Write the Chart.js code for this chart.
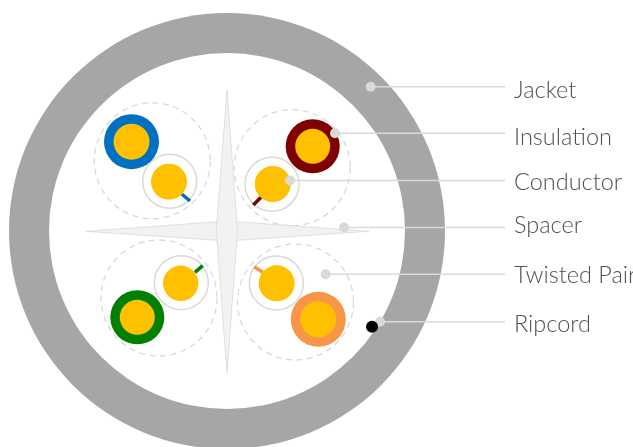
<!DOCTYPE html>
<html>
<head>
<meta charset="utf-8">
<title>Cable cross-section</title>
<script src="https://cdn.jsdelivr.net/npm/chart.js@4"></script>
<style>
html, body { margin: 0; padding: 0; background: #fff; overflow: hidden; }
canvas { display: block; }
</style>
</head>
<body>
<canvas id="chart" width="633" height="447"></canvas>
<script>
const jacket = [{ x: 227, y: 231, r: 218 }];
const jacketInner = [{ x: 227, y: 231, r: 178 }];

const pairOutlines = [
    { x: 152.3, y: 160.8, r: 58 },
    { x: 292.2, y: 167.7, r: 58 },
    { x: 159, y: 298, r: 58 },
    { x: 295.5, y: 302, r: 58 }
];

const spacerHorizontal = [
    { x: 86, y: 231.3 }, { x: 227, y: 221 }, { x: 369, y: 231.3 },
    { x: 227, y: 241 }, { x: 86, y: 231.3 }
];
const spacerVertical = [
    { x: 227, y: 90 }, { x: 236.8, y: 221 }, { x: 237.5, y: 231 }, { x: 236.8, y: 241 },
    { x: 227, y: 373 }, { x: 217, y: 241 }, { x: 216.5, y: 231 }, { x: 217, y: 221 },
    { x: 227, y: 90 }
];

const colouredColours = ['#0070c0', '#7f0000', '#008000', '#f79646'];
const colouredWires = [
    { x: 131.5, y: 141.7, r: 27.5 },
    { x: 312.7, y: 146.3, r: 27 },
    { x: 137.3, y: 317.3, r: 27 },
    { x: 318.3, y: 319.3, r: 27.5 }
];
const colouredCores = [
    { x: 131.5, y: 141.7, r: 18 },
    { x: 312.7, y: 146.3, r: 17.5 },
    { x: 137.3, y: 317.3, r: 17.5 },
    { x: 318.3, y: 319.3, r: 18 }
];

const plainRings = [
    { x: 169.7, y: 181.3, r: 27 },
    { x: 272, y: 184.3, r: 27 },
    { x: 181.3, y: 282.7, r: 27 },
    { x: 276.3, y: 283, r: 27 }
];
const plainCores = [
    { x: 169, y: 181.7, r: 18 },
    { x: 272.7, y: 184, r: 18 },
    { x: 180.7, y: 283.3, r: 17.7 },
    { x: 276.7, y: 283.3, r: 18 }
];
const stubs = [
    [{ x: 181.7, y: 194 }, { x: 190, y: 201 }],
    [{ x: 261, y: 197.3 }, { x: 253.3, y: 205 }],
    [{ x: 195, y: 272.3 }, { x: 202.7, y: 265.7 }],
    [{ x: 262.7, y: 272.3 }, { x: 254.3, y: 266.7 }]
];

const ripcord = [{ x: 372, y: 326.7, r: 6 }];

const labels = ['Jacket', 'Insulation', 'Conductor', 'Spacer', 'Twisted Pair', 'Ripcord'];
const labelBaselines = [98, 145, 190, 233, 283, 332];
const labelX = 514;
const leaderEndX = 505;
const leaderDots = [
    { x: 370.7, y: 86.7 },
    { x: 335, y: 133.3 },
    { x: 290, y: 180.5 },
    { x: 344, y: 227.5 },
    { x: 325.7, y: 274.3 },
    { x: 380, y: 321.7 }
];

const GREY = '#a6a6a6';
const GOLD = '#ffc000';
const LIGHT = '#d9d9d9';

function bubble(data, fill, extra) {
    return Object.assign({ type: 'bubble', data: data, backgroundColor: fill, borderWidth: 0 }, extra);
}
function path(data, colour, width, extra) {
    return Object.assign({
        type: 'scatter', data: data, showLine: true, pointRadius: 0,
        borderColor: colour, borderWidth: width
    }, extra);
}

// listed in paint order, bottom first
const datasets = [
    bubble(jacket, GREY),
    bubble(jacketInner, '#fff'),
    bubble(pairOutlines, 'transparent', { borderColor: LIGHT, borderWidth: 1.3, dash: [6, 4.5] }),
    path(spacerHorizontal, LIGHT, 0.8, { fill: 'shape', backgroundColor: '#f2f2f2' }),
    path(spacerVertical, LIGHT, 0.8, { fill: 'shape', backgroundColor: '#f2f2f2' })
];
datasets.push(bubble(plainRings, '#fff', { borderColor: LIGHT, borderWidth: 1.5 }));
stubs.forEach((s, i) => datasets.push(path(s, colouredColours[i], 3.5)));
datasets.push(bubble(plainCores, GOLD));
datasets.push(bubble(colouredWires, colouredColours));
datasets.push(bubble(colouredCores, GOLD));
leaderDots.forEach(d => {
    datasets.push(path([d, { x: leaderEndX, y: d.y }], LIGHT, 1.6));
});
datasets.push(bubble(leaderDots.map(d => ({ x: d.x, y: d.y, r: 5 })), LIGHT));
datasets.push(bubble(ripcord, '#000'));
datasets.forEach((d, i) => { d.order = datasets.length - i; });

// point elements take the dash from the context
const dashPlugin = {
    id: 'dash',
    beforeDatasetDraw(chart, args) {
        const dash = chart.data.datasets[args.index].dash;
        if (dash) chart.ctx.setLineDash(dash);
    },
    afterDatasetDraw(chart) {
        chart.ctx.setLineDash([]);
    }
};

const labelPlugin = {
    id: 'labels',
    afterDraw(chart) {
        const ctx = chart.ctx;
        ctx.save();
        ctx.font = '300 23.5px Lato, "Open Sans", sans-serif';
        ctx.fillStyle = '#505050';
        ctx.textBaseline = 'alphabetic';
        labels.forEach((text, i) => {
            ctx.fillText(text, chart.scales.x.getPixelForValue(labelX), chart.scales.y.getPixelForValue(labelBaselines[i]));
        });
        ctx.restore();
    }
};

new Chart(document.getElementById('chart'), {
    type: 'bubble',
    data: { datasets: datasets },
    plugins: [dashPlugin, labelPlugin],
    options: {
        responsive: false,
        animation: false,
        events: [],
        layout: { padding: 0, autoPadding: false },
        plugins: { legend: { display: false }, tooltip: { enabled: false } },
        scales: {
            x: { type: 'linear', min: 0, max: 633, display: false },
            y: { type: 'linear', min: 0, max: 447, reverse: true, display: false }
        }
    }
});
</script>
</body>
</html>
